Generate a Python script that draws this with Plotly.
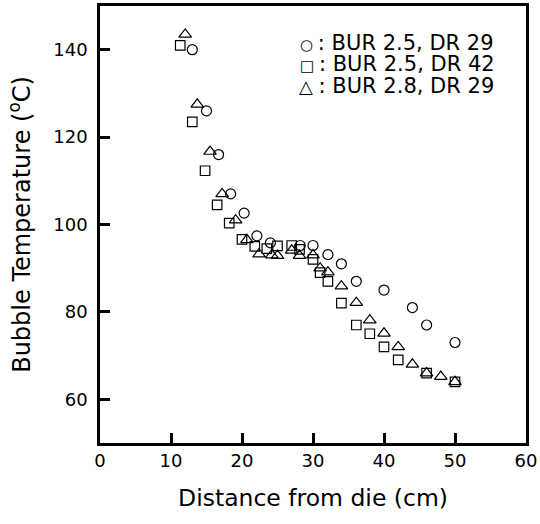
import plotly.graph_objects as go

# Data
circle_x = [13, 15, 16.7, 18.4, 20.3, 22.1, 24, 28.2, 30, 32.1, 34, 36.1, 40, 44, 46, 50]
circle_y = [140, 126, 116, 107, 102.6, 97.4, 95.8, 95.2, 95.2, 93.1, 91, 87, 85, 81, 77, 73]

square_x = [11.3, 13, 14.8, 16.5, 18.2, 20, 21.8, 23.5, 25, 27, 28.1, 30, 31, 32.1, 34, 36.1, 38, 40, 42, 46, 50]
square_y = [141, 123.5, 112.3, 104.5, 100.3, 96.6, 95, 94.5, 95.1, 95.2, 94.3, 92, 89, 87, 82, 77, 75, 72, 69, 66, 64]

tri_x = [12, 13.7, 15.5, 17.2, 19.1, 20.7, 22.4, 24.2, 25, 27, 28.1, 30, 31, 32.1, 34, 36.1, 38, 40, 42, 44, 46, 48, 50]
tri_y = [143.5, 127.5, 116.7, 107, 101, 96.5, 93.2, 93, 92.9, 94.1, 92.9, 93, 90, 89.1, 85.9, 82.1, 78.1, 75.1, 72, 68, 66, 65.2, 64]

series_labels = [": BUR 2.5, DR 29", ": BUR 2.5, DR 42", ": BUR 2.8, DR 29"]
legend_glyphs = ["○", "□", "△"]

x_ticks = [0, 10, 20, 30, 40, 50, 60]
y_ticks = [60, 80, 100, 120, 140]

FONT = "DejaVu Sans"

fig = go.Figure()
series = [
    (circle_x, circle_y, "circle-open", 10),
    (square_x, square_y, "square-open", 9.5),
    (tri_x, tri_y, "triangle-up-open", 11),
]
for (xs, ys, sym, sz), lab in zip(series, series_labels):
    fig.add_trace(go.Scatter(
        x=xs, y=ys, mode="markers", name=lab, showlegend=False,
        marker=dict(symbol=sym, size=sz, color="black", line=dict(color="black", width=1.2)),
    ))

# legend rows as annotations (glyph + label in one text)
row_y = [0.9176, 0.8684, 0.8192]
glyph_px = [15, 15, 18]
x_left = [0.4675, 0.4675, 0.4640]
for g, lab, ry, gp, xl in zip(legend_glyphs, series_labels, row_y, glyph_px, x_left):
    fig.add_annotation(x=xl, y=ry, xref="paper", yref="paper",
                       text='<span style="font-size:%dpx">' % gp + g + ' </span>' + lab,
                       showarrow=False, xanchor="left", yanchor="middle", borderpad=0,
                       height=21, valign="middle",
                       font=dict(family=FONT, size=21, color="black"))

axis_common = dict(
    showline=True, linecolor="black", linewidth=2.5, mirror=True,
    ticks="inside", ticklen=10, tickwidth=2.5, tickcolor="black",
    showgrid=False, zeroline=False,
    tickfont=dict(family=FONT, size=18, color="black"),
)

fig.update_xaxes(range=[0, 60], tickvals=x_ticks,
                 title=dict(text="Distance from die (cm)", font=dict(family=FONT, size=23.5, color="black"), standoff=20),
                 ticklabelstandoff=0, **axis_common)
fig.update_yaxes(range=[50, 150], tickvals=y_ticks,
                 title=dict(text="Bubble Temperature (<sup>o</sup>C)", font=dict(family=FONT, size=24, color="black"), standoff=16),
                 ticklabelstandoff=6, **axis_common)

fig.update_layout(
    width=540, height=524,
    margin=dict(l=100, r=14, t=6, b=81, autoexpand=False),
    plot_bgcolor="white", paper_bgcolor="white",
    font=dict(family=FONT, color="black"),
)

fig.write_html("out.html", config={"displayModeBar": False},
               post_script="document.body.style.margin='0';")
